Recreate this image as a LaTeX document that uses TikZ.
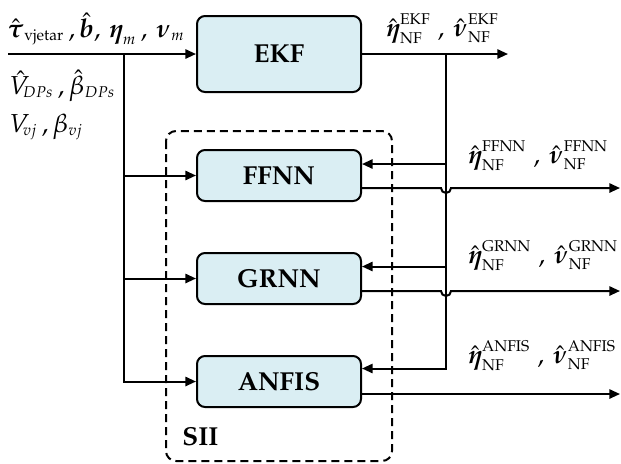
\documentclass[tikz,border=0pt]{standalone}
\usepackage[T1]{fontenc}
\usepackage{amsmath,amssymb}
\usepackage{mathpazo}
\usepackage{tikz}
\usetikzlibrary{arrows.meta,positioning,calc}

\DeclareMathSizes{13}{13}{7.8}{6}
\definecolor{boxblue}{HTML}{DAEEF3}

\begin{document}
\begin{tikzpicture}[
    x=0.5pt, y=-0.5pt,
    blk/.style={draw, line width=1pt, rounded corners=4pt, fill=boxblue, minimum width=82pt, minimum height=25.5pt, font=\fontsize{13}{15}\selectfont\bfseries},
    arrow/.style={-{Triangle[length=5.3pt, width=4.6pt]}, line width=1pt},
    lbl/.style={font=\fontsize{13}{15}\selectfont, inner sep=0pt, anchor=base west},
    group/.style={draw, dash pattern=on 4pt off 2.5pt, line width=1pt, rounded corners=5pt}
  ]
  \useasboundingbox (0,0) rectangle (621,463);

  % Filter blocks
  \node[blk, minimum height=38pt] (ekf) at (279,54) {EKF};
  \node[blk, below=28pt of ekf] (ffnn) {FFNN};
  \node[blk, below=25pt of ffnn] (grnn) {GRNN};
  \node[blk, below=25pt of grnn] (anfis) {ANFIS};

  % SII group
  \draw[group] (166,131) rectangle (392,461);
  \node[font=\fontsize{13}{15}\selectfont\bfseries, anchor=base west, inner sep=0pt] (sii) at (182,445) {SII};

  % Inputs
  \coordinate (in) at (8,54);
  \coordinate (split) at (124,54);
  \draw[arrow] (in) -- (ekf.west);
  \draw[arrow] (split) |- (anfis.west);
  \draw[arrow] (split |- ffnn.west) -- (ffnn.west);
  \draw[arrow] (split |- grnn.west) -- (grnn.west);
  \node[lbl] (inlbl) at (7,37) {$\hat{\boldsymbol{\tau}}_{\text{vjetar}}\,,\hat{\boldsymbol{b}},\,\boldsymbol{\eta}_m\,,\,\boldsymbol{\nu}_m$};
  \node[lbl] (dplbl) at (9,94) {$\hat{V}_{\!DPs}\,,\hat{\beta}_{DPs}$};
  \node[lbl] (vjlbl) at (9,132) {$V_{\!vj}\,,\beta_{vj}$};

  % EKF output and feedback
  \coordinate (out) at (508,54);
  \coordinate (fb) at (446,54);
  \coordinate (rend) at (620,0);
  \draw[arrow] (ekf.east) -- (out);
  \node[lbl] (ekflbl) at (386,36) {$\hat{\boldsymbol{\eta}}^{\text{EKF}}_{\text{NF}}\;,\,\hat{\boldsymbol{\nu}}^{\text{EKF}}_{\text{NF}}$};

  \coordinate (fbF) at ($(ffnn.east)+(0,-11.5)$);
  \coordinate (fbG) at ($(grnn.east)+(0,-12)$);
  \coordinate (fbA) at ($(anfis.east)+(0,-13)$);
  \draw[arrow] (fb) |- (fbA);
  \draw[arrow] (fb |- fbF) -- (fbF);
  \draw[arrow] (fb |- fbG) -- (fbG);

  % Outputs of the SII blocks
  \coordinate (outF) at ($(ffnn.east)+(0,12.5)$);
  \coordinate (outG) at ($(grnn.east)+(0,12.5)$);
  \coordinate (outA) at ($(anfis.east)+(0,12.5)$);
  \draw[arrow] (outF) -- ($(fb |- outF)+(-5,0)$) arc[start angle=180, end angle=360, radius=2.5pt] -- (outF -| rend);
  \draw[arrow] (outG) -- ($(fb |- outG)+(-5,0)$) arc[start angle=180, end angle=360, radius=2.5pt] -- (outG -| rend);
  \draw[arrow] (outA) -- (outA -| rend);
  \node[lbl] (fflbl) at (468,163) {$\hat{\boldsymbol{\eta}}^{\text{FFNN}}_{\text{NF}}\;,\,\hat{\boldsymbol{\nu}}^{\text{FFNN}}_{\text{NF}}$};
  \node[lbl] (grlbl) at (468,263) {$\hat{\boldsymbol{\eta}}^{\text{GRNN}}_{\text{NF}}\;,\,\hat{\boldsymbol{\nu}}^{\text{GRNN}}_{\text{NF}}$};
  \node[lbl] (anlbl) at (468,363) {$\hat{\boldsymbol{\eta}}^{\text{ANFIS}}_{\text{NF}}\;,\,\hat{\boldsymbol{\nu}}^{\text{ANFIS}}_{\text{NF}}$};
\end{tikzpicture}
\end{document}
